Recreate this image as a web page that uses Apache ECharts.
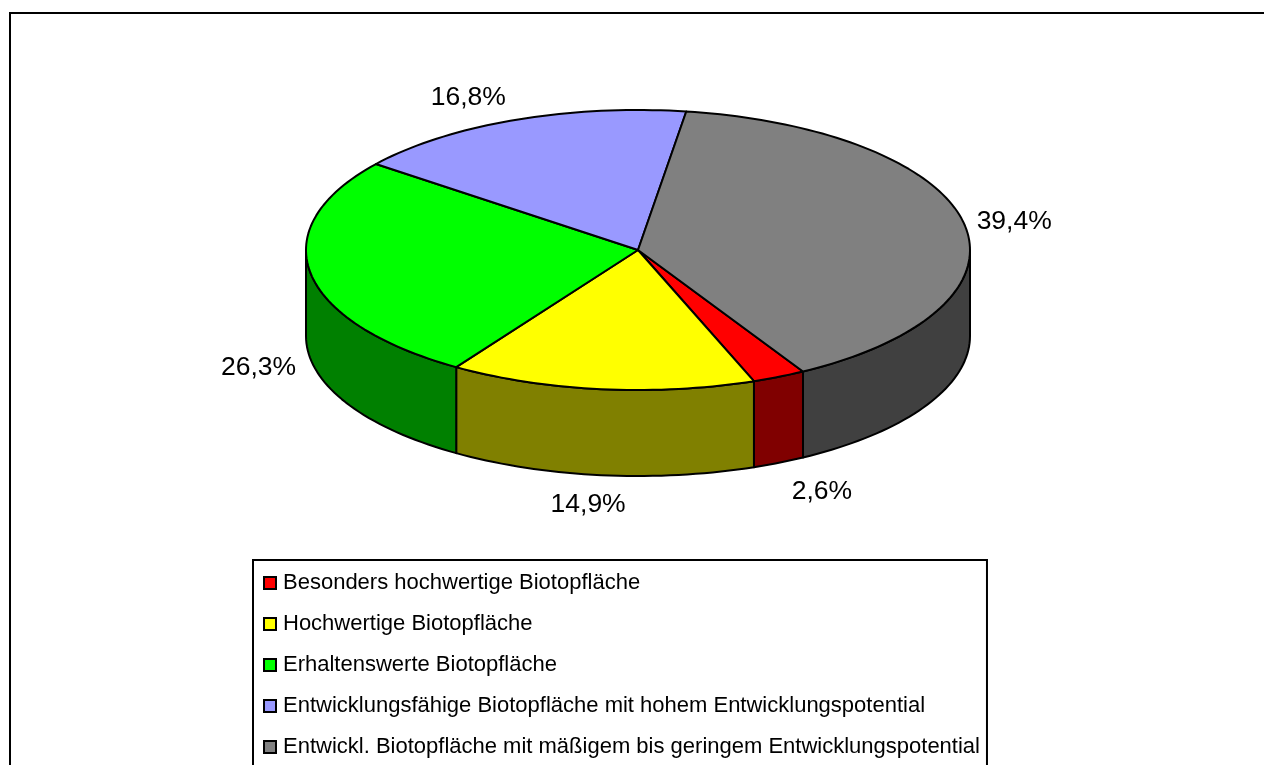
<!DOCTYPE html>
<html>
<head>
<meta charset="utf-8">
<title>Biotopflächen</title>
<style>
  html, body { margin: 0; padding: 0; background: #fff; overflow: hidden; }
  #chart { width: 1264px; height: 765px; }
</style>
<script src="https://cdn.jsdelivr.net/npm/echarts@6/dist/echarts.min.js"></script>
</head>
<body>
<div id="chart"></div>
<script>
var categories = [
  'Besonders hochwertige Biotopfläche',
  'Hochwertige Biotopfläche',
  'Erhaltenswerte Biotopfläche',
  'Entwicklungsfähige Biotopfläche mit hohem Entwicklungspotential',
  'Entwickl. Biotopfläche mit mäßigem bis geringem Entwicklungspotential'
]
var shares = [2.6, 14.9, 26.3, 16.8, 39.4]
var topColors = ['#ff0000', '#ffff00', '#00ff00', '#9999ff', '#808080']
var wallColors = ['#800000', '#808000', '#008000', '#4c4c80', '#404040']

// Ellipse des Kuchens
var cx = 638, cy = 250, rx = 332, ry = 140, depth = 86
var startAngle = 150.2
var fontName = '"Liberation Sans", Arial, sans-serif'
// Abstand der Beschriftung vom Rand des Stücks
var labelNudge = [[43, 115], [-13, 116], [-52, 95], [-46, -22], [50, -2]]

var total = shares.reduce(function (a, b) { return a + b }, 0)

function edge(deg, dy) {
  var t = deg * Math.PI / 180
  return [cx + rx * Math.sin(t), cy - ry * Math.cos(t) + (dy || 0)]
}

function arc(from, to, dy) {
  var pts = []
  var n = Math.max(2, Math.ceil(Math.abs(to - from) / 1.5))
  for (var i = 0; i <= n; i++) {
    pts.push(edge(from + (to - from) * i / n, dy))
  }
  return pts
}

function sliceRange(index) {
  var before = 0
  for (var i = 0; i < index; i++) before += shares[i]
  var from = startAngle + before / total * 360
  return [from, from + shares[index] / total * 360]
}

function renderSlice(index) {
  return function (params, api) {
    var range = sliceRange(index)
    var style = { stroke: '#000', lineWidth: 2, lineJoin: 'round' }
    var children = []

    // Seitenwand, nur der vordere Teil (90-270 Grad) ist sichtbar
    var ranges = [[range[0], range[1]], [range[0] - 360, range[1] - 360]]
    ranges.forEach(function (r) {
      var from = Math.max(r[0], 90)
      var to = Math.min(r[1], 270)
      if (to > from) {
        children.push({
          type: 'polygon',
          shape: { points: arc(from, to, 0).concat(arc(to, from, depth)) },
          style: Object.assign({ fill: wallColors[index] }, style)
        })
      }
    })

    children.push({
      type: 'polygon',
      shape: { points: [[cx, cy]].concat(arc(range[0], range[1], 0)) },
      style: Object.assign({ fill: topColors[index] }, style)
    })

    var mid = edge((range[0] + range[1]) / 2, 0)
    children.push({
      type: 'text',
      x: mid[0] + labelNudge[index][0],
      y: mid[1] + labelNudge[index][1],
      style: {
        text: api.value(0).toFixed(1).replace('.', ',') + '%',
        fill: '#000',
        font: '26.5px ' + fontName,
        align: 'center',
        verticalAlign: 'middle'
      }
    })
    return { type: 'group', children: children }
  }
}

var seriesData = categories.map(function (name, i) {
  return {
    name: name,
    type: 'custom',
    coordinateSystem: 'none',
    silent: true,
    itemStyle: { color: topColors[i] },
    renderItem: renderSlice(i),
    data: [[shares[i]]]
  }
})

var chart = echarts.init(document.getElementById('chart'))
chart.setOption({
  backgroundColor: '#fff',
  animation: false,
  tooltip: { show: false },
  // Rahmen, rechts und unten läuft er aus dem Bild
  graphic: [{
    type: 'rect',
    shape: { x: 10, y: 13, width: 1300, height: 800 },
    style: { fill: 'none', stroke: '#000', lineWidth: 2 },
    silent: true,
    z: -10
  }],
  legend: {
    orient: 'vertical',
    left: 253,
    top: 560,
    height: 300,
    selectedMode: false,
    icon: 'rect',
    itemWidth: 12,
    itemHeight: 12,
    itemGap: 19,
    padding: [12, 7, 40, 10],
    borderColor: '#000',
    borderWidth: 2,
    backgroundColor: '#fff',
    itemStyle: { borderColor: '#000', borderWidth: 2 },
    textStyle: {
      color: '#000',
      fontFamily: fontName,
      fontSize: 22,
      lineHeight: 22,
      padding: [0, 0, 0, 2]
    },
    data: categories
  },
  series: seriesData
})
</script>
</body>
</html>
